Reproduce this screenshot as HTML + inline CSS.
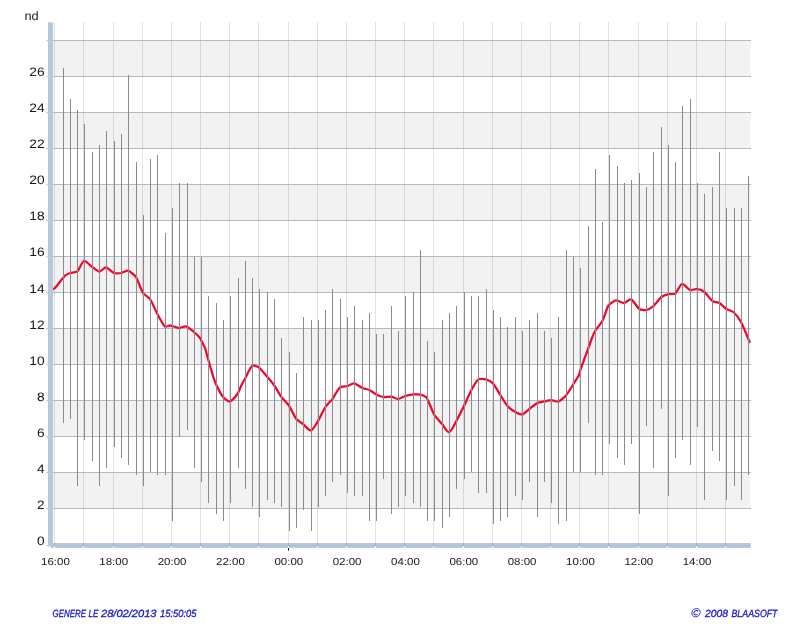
<!DOCTYPE html>
<html><head><meta charset="utf-8"><title>chart</title>
<style>
html,body{margin:0;padding:0;background:#fff;}
body{width:800px;height:630px;overflow:hidden;font-family:"Liberation Sans",sans-serif;}
svg{display:block;}
text{font-family:"Liberation Sans",sans-serif;text-rendering:geometricPrecision;}
</style></head><body>
<svg width="800" height="630" viewBox="0 0 800 630">
<defs><filter id="nf" x="0" y="0" width="800" height="630" filterUnits="userSpaceOnUse" color-interpolation-filters="sRGB"><feOffset dx="0" dy="0"/></filter></defs>
<rect x="0" y="0" width="800" height="630" fill="#ffffff"/>
<rect x="53" y="40" width="697.5" height="36" fill="#f2f2f2"/>
<rect x="53" y="112" width="697.5" height="36" fill="#f2f2f2"/>
<rect x="53" y="184" width="697.5" height="36" fill="#f2f2f2"/>
<rect x="53" y="256" width="697.5" height="36" fill="#f2f2f2"/>
<rect x="53" y="328" width="697.5" height="36" fill="#f2f2f2"/>
<rect x="53" y="400" width="697.5" height="36" fill="#f2f2f2"/>
<rect x="53" y="472" width="697.5" height="36" fill="#f2f2f2"/>
<g stroke="#000" stroke-opacity="0.115" stroke-width="1" shape-rendering="crispEdges">
<line x1="54.5" y1="22" x2="54.5" y2="543"/>
<line x1="83.5" y1="22" x2="83.5" y2="543"/>
<line x1="113.5" y1="22" x2="113.5" y2="543"/>
<line x1="142.5" y1="22" x2="142.5" y2="543"/>
<line x1="171.5" y1="22" x2="171.5" y2="543"/>
<line x1="200.5" y1="22" x2="200.5" y2="543"/>
<line x1="229.5" y1="22" x2="229.5" y2="543"/>
<line x1="258.5" y1="22" x2="258.5" y2="543"/>
<line x1="288.5" y1="22" x2="288.5" y2="543"/>
<line x1="317.5" y1="22" x2="317.5" y2="543"/>
<line x1="346.5" y1="22" x2="346.5" y2="543"/>
<line x1="375.5" y1="22" x2="375.5" y2="543"/>
<line x1="404.5" y1="22" x2="404.5" y2="543"/>
<line x1="433.5" y1="22" x2="433.5" y2="543"/>
<line x1="463.5" y1="22" x2="463.5" y2="543"/>
<line x1="492.5" y1="22" x2="492.5" y2="543"/>
<line x1="521.5" y1="22" x2="521.5" y2="543"/>
<line x1="550.5" y1="22" x2="550.5" y2="543"/>
<line x1="579.5" y1="22" x2="579.5" y2="543"/>
<line x1="608.5" y1="22" x2="608.5" y2="543"/>
<line x1="638.5" y1="22" x2="638.5" y2="543"/>
<line x1="667.5" y1="22" x2="667.5" y2="543"/>
<line x1="696.5" y1="22" x2="696.5" y2="543"/>
<line x1="725.5" y1="22" x2="725.5" y2="543"/>
</g>
<g stroke="#adb9cd" stroke-width="1" shape-rendering="crispEdges">
<line x1="53" y1="40.5" x2="750.5" y2="40.5"/>
<line x1="53" y1="76.5" x2="750.5" y2="76.5"/>
<line x1="53" y1="112.5" x2="750.5" y2="112.5"/>
<line x1="53" y1="148.5" x2="750.5" y2="148.5"/>
<line x1="53" y1="184.5" x2="750.5" y2="184.5"/>
<line x1="53" y1="220.5" x2="750.5" y2="220.5"/>
<line x1="53" y1="256.5" x2="750.5" y2="256.5"/>
<line x1="53" y1="292.5" x2="750.5" y2="292.5"/>
<line x1="53" y1="328.5" x2="750.5" y2="328.5"/>
<line x1="53" y1="364.5" x2="750.5" y2="364.5"/>
<line x1="53" y1="400.5" x2="750.5" y2="400.5"/>
<line x1="53" y1="436.5" x2="750.5" y2="436.5"/>
<line x1="53" y1="472.5" x2="750.5" y2="472.5"/>
<line x1="53" y1="508.5" x2="750.5" y2="508.5"/>
</g>
<g stroke="#c0cee1" stroke-width="1.3">
<line x1="46.3" y1="40.6" x2="48.2" y2="40.6"/>
<line x1="46.3" y1="76.6" x2="48.2" y2="76.6"/>
<line x1="46.3" y1="112.6" x2="48.2" y2="112.6"/>
<line x1="46.3" y1="148.6" x2="48.2" y2="148.6"/>
<line x1="46.3" y1="184.6" x2="48.2" y2="184.6"/>
<line x1="46.3" y1="220.6" x2="48.2" y2="220.6"/>
<line x1="46.3" y1="256.6" x2="48.2" y2="256.6"/>
<line x1="46.3" y1="292.6" x2="48.2" y2="292.6"/>
<line x1="46.3" y1="328.6" x2="48.2" y2="328.6"/>
<line x1="46.3" y1="364.6" x2="48.2" y2="364.6"/>
<line x1="46.3" y1="400.6" x2="48.2" y2="400.6"/>
<line x1="46.3" y1="436.6" x2="48.2" y2="436.6"/>
<line x1="46.3" y1="472.6" x2="48.2" y2="472.6"/>
<line x1="46.3" y1="508.6" x2="48.2" y2="508.6"/>
<line x1="46.3" y1="545.6" x2="48.2" y2="545.6"/>
</g>
<path d="M53.0 289.0C53.4 288.8 54.7 288.3 55.0 288.0C56.8 286.0 61.6 279.4 63.4 277.4C64.0 276.7 66.2 274.9 67.0 274.4C67.6 274.0 69.7 273.2 70.4 273.0C71.8 272.6 76.3 272.4 77.4 271.4C79.2 269.8 81.7 261.9 84.0 261.0C85.6 260.4 89.6 265.0 91.0 266.0C92.7 267.1 97.4 271.4 99.4 271.6C101.0 271.7 104.4 267.3 106.0 267.4C107.9 267.6 112.2 272.3 114.0 273.0C115.3 273.5 119.6 273.2 121.0 273.0C122.5 272.7 126.6 270.2 128.0 270.6C130.0 271.1 134.9 275.3 136.0 277.0C137.9 279.9 141.1 290.1 143.0 293.0C144.0 294.6 149.0 297.5 150.0 299.0C151.9 301.8 155.8 311.1 157.4 314.0C158.8 316.6 162.8 324.6 165.0 326.6C165.8 327.3 169.0 325.5 170.0 325.4C170.5 325.4 171.9 325.9 172.4 326.0C173.7 326.4 177.6 328.0 179.0 328.0C180.4 328.0 184.6 326.0 186.0 326.4C187.9 326.9 192.5 330.8 194.0 332.0C195.3 333.1 198.9 336.7 200.0 338.0C200.6 338.7 201.6 341.2 202.0 342.0C202.6 343.2 204.6 346.7 205.0 348.0C205.8 350.4 207.7 357.6 208.4 360.0C209.3 363.2 212.0 372.8 213.0 376.0C213.6 377.8 215.6 383.3 216.4 385.0C217.6 387.6 221.6 395.2 223.4 397.4C224.4 398.6 228.5 401.8 230.0 401.4C232.0 400.9 236.2 395.7 237.4 394.0C238.6 392.2 241.0 386.0 242.0 384.0C242.6 382.8 244.7 379.2 245.4 378.0C246.8 375.5 250.1 367.3 252.4 365.6C253.5 364.8 257.9 366.8 259.0 367.6C261.0 369.1 265.8 375.1 267.4 377.0C268.8 378.6 272.8 383.3 274.0 385.0C275.6 387.3 279.7 394.7 281.4 397.0C282.8 398.9 287.7 403.7 289.0 405.6C290.7 408.1 294.5 416.6 296.4 419.0C297.5 420.4 302.0 423.3 303.4 424.4C304.9 425.6 309.1 430.8 311.0 430.4C313.3 429.9 316.8 423.0 318.0 421.0C319.7 418.3 323.7 409.6 325.4 407.0C326.6 405.2 331.1 400.7 332.4 399.0C334.1 396.8 337.9 389.2 340.0 387.4C341.1 386.4 346.0 386.4 347.4 386.0C348.8 385.6 352.6 383.2 354.0 383.4C355.9 383.7 360.6 387.2 362.4 388.0C363.7 388.6 368.1 389.4 369.4 390.0C370.9 390.7 374.9 393.7 376.4 394.4C377.7 395.1 381.9 396.8 383.4 397.0C385.0 397.2 389.8 396.4 391.4 396.6C392.9 396.8 396.9 399.1 398.4 399.0C399.9 398.9 403.9 396.4 405.4 396.0C407.0 395.5 411.8 394.6 413.4 394.4C414.8 394.3 419.0 394.3 420.4 394.6C421.6 394.8 425.0 396.3 426.0 397.0C426.6 397.5 427.7 399.7 428.0 400.4C429.3 403.3 432.8 412.3 434.4 415.0C435.7 417.1 440.8 422.5 442.4 424.4C443.7 425.9 447.0 432.5 449.0 432.0C451.6 431.4 455.1 423.3 456.4 421.0C458.1 418.1 462.5 409.0 464.0 406.0C465.5 402.8 469.7 393.1 471.4 390.0C472.6 387.8 476.3 380.9 478.4 379.4C479.6 378.5 484.5 379.0 486.0 379.4C487.6 379.9 491.9 382.4 493.0 383.6C494.8 385.6 498.9 392.7 500.4 395.0C501.8 397.2 505.7 404.0 507.4 406.0C508.7 407.5 513.7 411.0 515.4 412.0C516.7 412.7 521.0 414.7 522.4 414.4C524.1 414.0 528.0 410.1 529.4 409.0C531.0 407.8 535.6 403.9 537.4 403.0C538.7 402.4 543.0 401.7 544.4 401.4C545.8 401.1 550.0 400.0 551.4 400.0C552.8 400.0 557.0 402.1 558.4 401.6C560.4 400.9 565.1 396.6 566.4 395.0C568.1 393.0 572.0 386.2 573.4 384.0C574.5 382.2 578.1 376.9 579.0 375.0C579.5 374.1 580.1 371.0 580.4 370.0C581.9 365.6 586.8 352.4 588.4 348.0C589.1 346.0 591.2 340.0 592.0 338.0C592.6 336.5 594.5 331.9 595.4 330.5C596.6 328.5 601.3 323.1 602.4 321.0C603.9 318.2 606.8 309.0 608.0 306.0C608.2 305.6 609.1 304.6 609.4 304.4C610.7 303.5 614.5 300.5 616.0 300.4C617.7 300.2 622.3 303.1 624.0 303.0C625.6 302.9 629.5 298.8 631.0 299.4C633.4 300.3 637.3 307.6 639.4 309.0C640.6 309.8 645.0 310.3 646.4 310.0C648.0 309.7 652.2 307.1 653.4 306.0C655.2 304.4 659.5 298.5 661.4 297.0C662.6 296.1 666.9 294.6 668.4 294.2C669.8 293.9 674.3 294.4 675.4 293.6C677.3 292.2 679.7 284.6 682.0 284.0C683.9 283.5 688.1 289.4 690.0 290.0C691.4 290.5 695.9 288.8 697.4 289.0C698.9 289.2 703.2 291.0 704.4 292.0C706.3 293.5 710.5 299.6 712.4 301.0C713.6 301.9 718.1 302.3 719.4 303.0C721.0 303.9 724.8 308.0 726.4 309.0C727.7 309.8 732.3 311.0 733.4 312.0C735.3 313.7 739.8 319.8 741.0 322.0C743.1 325.8 747.9 338.0 749.6 342.0" fill="none" stroke="#f3052e" stroke-width="2.25" stroke-linejoin="round" stroke-linecap="round"/>
<g stroke="#8a8a8a" stroke-width="1" shape-rendering="crispEdges">
<line x1="63.5" y1="68" x2="63.5" y2="423"/>
<line x1="70.5" y1="99" x2="70.5" y2="419"/>
<line x1="77.5" y1="110" x2="77.5" y2="486"/>
<line x1="84.5" y1="124" x2="84.5" y2="440"/>
<line x1="92.5" y1="152" x2="92.5" y2="461"/>
<line x1="99.5" y1="145" x2="99.5" y2="486"/>
<line x1="106.5" y1="131" x2="106.5" y2="468"/>
<line x1="114.5" y1="141" x2="114.5" y2="447"/>
<line x1="121.5" y1="134" x2="121.5" y2="458"/>
<line x1="128.5" y1="75" x2="128.5" y2="465"/>
<line x1="136.5" y1="162" x2="136.5" y2="475"/>
<line x1="143.5" y1="215" x2="143.5" y2="486"/>
<line x1="150.5" y1="159" x2="150.5" y2="472"/>
<line x1="157.5" y1="155" x2="157.5" y2="475"/>
<line x1="165.5" y1="233" x2="165.5" y2="475"/>
<line x1="172.5" y1="208" x2="172.5" y2="521"/>
<line x1="179.5" y1="183" x2="179.5" y2="437"/>
<line x1="187.5" y1="183" x2="187.5" y2="430"/>
<line x1="194.5" y1="257" x2="194.5" y2="468"/>
<line x1="201.5" y1="257" x2="201.5" y2="482"/>
<line x1="208.5" y1="296" x2="208.5" y2="503"/>
<line x1="216.5" y1="303" x2="216.5" y2="514"/>
<line x1="223.5" y1="320" x2="223.5" y2="521"/>
<line x1="230.5" y1="296" x2="230.5" y2="503"/>
<line x1="238.5" y1="278" x2="238.5" y2="468"/>
<line x1="245.5" y1="261" x2="245.5" y2="489"/>
<line x1="252.5" y1="278" x2="252.5" y2="507"/>
<line x1="259.5" y1="289" x2="259.5" y2="517"/>
<line x1="267.5" y1="292" x2="267.5" y2="500"/>
<line x1="274.5" y1="299" x2="274.5" y2="503"/>
<line x1="281.5" y1="338" x2="281.5" y2="507"/>
<line x1="289.5" y1="352" x2="289.5" y2="531"/>
<line x1="296.5" y1="373" x2="296.5" y2="528"/>
<line x1="303.5" y1="317" x2="303.5" y2="510"/>
<line x1="311.5" y1="320" x2="311.5" y2="531"/>
<line x1="318.5" y1="320" x2="318.5" y2="507"/>
<line x1="325.5" y1="310" x2="325.5" y2="496"/>
<line x1="332.5" y1="289" x2="332.5" y2="482"/>
<line x1="340.5" y1="299" x2="340.5" y2="475"/>
<line x1="347.5" y1="317" x2="347.5" y2="493"/>
<line x1="354.5" y1="306" x2="354.5" y2="496"/>
<line x1="362.5" y1="320" x2="362.5" y2="496"/>
<line x1="369.5" y1="313" x2="369.5" y2="521"/>
<line x1="376.5" y1="334" x2="376.5" y2="521"/>
<line x1="383.5" y1="334" x2="383.5" y2="479"/>
<line x1="391.5" y1="306" x2="391.5" y2="514"/>
<line x1="398.5" y1="331" x2="398.5" y2="507"/>
<line x1="405.5" y1="296" x2="405.5" y2="496"/>
<line x1="413.5" y1="292" x2="413.5" y2="503"/>
<line x1="420.5" y1="250" x2="420.5" y2="507"/>
<line x1="427.5" y1="341" x2="427.5" y2="521"/>
<line x1="434.5" y1="352" x2="434.5" y2="521"/>
<line x1="442.5" y1="320" x2="442.5" y2="528"/>
<line x1="449.5" y1="313" x2="449.5" y2="517"/>
<line x1="456.5" y1="306" x2="456.5" y2="489"/>
<line x1="464.5" y1="292" x2="464.5" y2="479"/>
<line x1="471.5" y1="296" x2="471.5" y2="472"/>
<line x1="478.5" y1="296" x2="478.5" y2="493"/>
<line x1="486.5" y1="289" x2="486.5" y2="493"/>
<line x1="493.5" y1="310" x2="493.5" y2="524"/>
<line x1="500.5" y1="317" x2="500.5" y2="521"/>
<line x1="507.5" y1="327" x2="507.5" y2="517"/>
<line x1="515.5" y1="317" x2="515.5" y2="496"/>
<line x1="522.5" y1="331" x2="522.5" y2="500"/>
<line x1="529.5" y1="320" x2="529.5" y2="482"/>
<line x1="537.5" y1="313" x2="537.5" y2="517"/>
<line x1="544.5" y1="331" x2="544.5" y2="482"/>
<line x1="551.5" y1="338" x2="551.5" y2="503"/>
<line x1="558.5" y1="317" x2="558.5" y2="524"/>
<line x1="566.5" y1="250" x2="566.5" y2="521"/>
<line x1="573.5" y1="257" x2="573.5" y2="472"/>
<line x1="580.5" y1="268" x2="580.5" y2="472"/>
<line x1="588.5" y1="226" x2="588.5" y2="423"/>
<line x1="595.5" y1="169" x2="595.5" y2="475"/>
<line x1="602.5" y1="222" x2="602.5" y2="475"/>
<line x1="609.5" y1="155" x2="609.5" y2="444"/>
<line x1="617.5" y1="166" x2="617.5" y2="458"/>
<line x1="624.5" y1="183" x2="624.5" y2="465"/>
<line x1="631.5" y1="180" x2="631.5" y2="444"/>
<line x1="639.5" y1="173" x2="639.5" y2="514"/>
<line x1="646.5" y1="187" x2="646.5" y2="426"/>
<line x1="653.5" y1="152" x2="653.5" y2="468"/>
<line x1="661.5" y1="127" x2="661.5" y2="409"/>
<line x1="668.5" y1="145" x2="668.5" y2="496"/>
<line x1="675.5" y1="162" x2="675.5" y2="458"/>
<line x1="682.5" y1="106" x2="682.5" y2="440"/>
<line x1="690.5" y1="99" x2="690.5" y2="465"/>
<line x1="697.5" y1="183" x2="697.5" y2="427"/>
<line x1="704.5" y1="194" x2="704.5" y2="500"/>
<line x1="712.5" y1="187" x2="712.5" y2="451"/>
<line x1="719.5" y1="152" x2="719.5" y2="461"/>
<line x1="726.5" y1="208" x2="726.5" y2="500"/>
<line x1="734.5" y1="208" x2="734.5" y2="486"/>
<line x1="741.5" y1="208" x2="741.5" y2="500"/>
<line x1="748.5" y1="176" x2="748.5" y2="475"/>
</g>
<rect x="48" y="22.3" width="5" height="523.9" fill="#b6c8dc"/>
<rect x="48" y="543" width="702.7" height="3.2" fill="#b6c8dc"/>
<rect x="50.6" y="546" width="700.1" height="2" fill="#b6c8dc"/>
<rect x="53" y="545" width="697.7" height="1" fill="#aebdd3"/>
<g stroke="#000" stroke-opacity="0.10" stroke-width="1" shape-rendering="crispEdges">
<line x1="54.5" y1="543" x2="54.5" y2="546"/>
<line x1="83.5" y1="543" x2="83.5" y2="546"/>
<line x1="113.5" y1="543" x2="113.5" y2="546"/>
<line x1="142.5" y1="543" x2="142.5" y2="546"/>
<line x1="171.5" y1="543" x2="171.5" y2="546"/>
<line x1="200.5" y1="543" x2="200.5" y2="546"/>
<line x1="229.5" y1="543" x2="229.5" y2="546"/>
<line x1="258.5" y1="543" x2="258.5" y2="546"/>
<line x1="288.5" y1="543" x2="288.5" y2="546"/>
<line x1="317.5" y1="543" x2="317.5" y2="546"/>
<line x1="346.5" y1="543" x2="346.5" y2="546"/>
<line x1="375.5" y1="543" x2="375.5" y2="546"/>
<line x1="404.5" y1="543" x2="404.5" y2="546"/>
<line x1="433.5" y1="543" x2="433.5" y2="546"/>
<line x1="463.5" y1="543" x2="463.5" y2="546"/>
<line x1="492.5" y1="543" x2="492.5" y2="546"/>
<line x1="521.5" y1="543" x2="521.5" y2="546"/>
<line x1="550.5" y1="543" x2="550.5" y2="546"/>
<line x1="579.5" y1="543" x2="579.5" y2="546"/>
<line x1="608.5" y1="543" x2="608.5" y2="546"/>
<line x1="638.5" y1="543" x2="638.5" y2="546"/>
<line x1="667.5" y1="543" x2="667.5" y2="546"/>
<line x1="696.5" y1="543" x2="696.5" y2="546"/>
<line x1="725.5" y1="543" x2="725.5" y2="546"/>
</g>
<g stroke="#ffffff" stroke-width="1" shape-rendering="crispEdges">
<line x1="54.5" y1="546" x2="54.5" y2="548"/>
<line x1="83.5" y1="546" x2="83.5" y2="548"/>
<line x1="113.5" y1="546" x2="113.5" y2="548"/>
<line x1="142.5" y1="546" x2="142.5" y2="548"/>
<line x1="171.5" y1="546" x2="171.5" y2="548"/>
<line x1="200.5" y1="546" x2="200.5" y2="548"/>
<line x1="229.5" y1="546" x2="229.5" y2="548"/>
<line x1="258.5" y1="546" x2="258.5" y2="548"/>
<line x1="288.5" y1="546" x2="288.5" y2="548"/>
<line x1="317.5" y1="546" x2="317.5" y2="548"/>
<line x1="346.5" y1="546" x2="346.5" y2="548"/>
<line x1="375.5" y1="546" x2="375.5" y2="548"/>
<line x1="404.5" y1="546" x2="404.5" y2="548"/>
<line x1="433.5" y1="546" x2="433.5" y2="548"/>
<line x1="463.5" y1="546" x2="463.5" y2="548"/>
<line x1="492.5" y1="546" x2="492.5" y2="548"/>
<line x1="521.5" y1="546" x2="521.5" y2="548"/>
<line x1="550.5" y1="546" x2="550.5" y2="548"/>
<line x1="579.5" y1="546" x2="579.5" y2="548"/>
<line x1="608.5" y1="546" x2="608.5" y2="548"/>
<line x1="638.5" y1="546" x2="638.5" y2="548"/>
<line x1="667.5" y1="546" x2="667.5" y2="548"/>
<line x1="696.5" y1="546" x2="696.5" y2="548"/>
<line x1="725.5" y1="546" x2="725.5" y2="548"/>
</g>
<rect x="288" y="548" width="1" height="2.7" fill="#1a1a1a"/>
<g fill="#181818" font-size="12.2px" filter="url(#nf)">
<text x="24.5" y="20" textLength="14.2" lengthAdjust="spacingAndGlyphs">nd</text>
<text x="29.3" y="75.8" textLength="15.3" lengthAdjust="spacingAndGlyphs">26</text>
<text x="29.3" y="111.8" textLength="15.3" lengthAdjust="spacingAndGlyphs">24</text>
<text x="29.3" y="147.8" textLength="15.3" lengthAdjust="spacingAndGlyphs">22</text>
<text x="29.3" y="183.8" textLength="15.3" lengthAdjust="spacingAndGlyphs">20</text>
<text x="29.3" y="219.8" textLength="15.3" lengthAdjust="spacingAndGlyphs">18</text>
<text x="29.3" y="255.8" textLength="15.3" lengthAdjust="spacingAndGlyphs">16</text>
<text x="29.3" y="292.8" textLength="15.3" lengthAdjust="spacingAndGlyphs">14</text>
<text x="29.3" y="328.8" textLength="15.3" lengthAdjust="spacingAndGlyphs">12</text>
<text x="29.3" y="364.8" textLength="15.3" lengthAdjust="spacingAndGlyphs">10</text>
<text x="37.0" y="400.8" textLength="7.6" lengthAdjust="spacingAndGlyphs">8</text>
<text x="37.0" y="436.8" textLength="7.6" lengthAdjust="spacingAndGlyphs">6</text>
<text x="37.0" y="472.8" textLength="7.6" lengthAdjust="spacingAndGlyphs">4</text>
<text x="37.0" y="508.8" textLength="7.6" lengthAdjust="spacingAndGlyphs">2</text>
<text x="37.0" y="544.8" textLength="7.6" lengthAdjust="spacingAndGlyphs">0</text>
</g>
<g fill="#181818" font-size="10.1px" filter="url(#nf)">
<text x="41.0" y="564.8" textLength="28.8" lengthAdjust="spacingAndGlyphs">16:00</text>
<text x="99.3" y="564.8" textLength="28.8" lengthAdjust="spacingAndGlyphs">18:00</text>
<text x="157.7" y="564.8" textLength="28.8" lengthAdjust="spacingAndGlyphs">20:00</text>
<text x="216.0" y="564.8" textLength="28.8" lengthAdjust="spacingAndGlyphs">22:00</text>
<text x="274.4" y="564.8" textLength="28.8" lengthAdjust="spacingAndGlyphs">00:00</text>
<text x="332.7" y="564.8" textLength="28.8" lengthAdjust="spacingAndGlyphs">02:00</text>
<text x="391.0" y="564.8" textLength="28.8" lengthAdjust="spacingAndGlyphs">04:00</text>
<text x="449.4" y="564.8" textLength="28.8" lengthAdjust="spacingAndGlyphs">06:00</text>
<text x="507.7" y="564.8" textLength="28.8" lengthAdjust="spacingAndGlyphs">08:00</text>
<text x="566.1" y="564.8" textLength="28.8" lengthAdjust="spacingAndGlyphs">10:00</text>
<text x="624.4" y="564.8" textLength="28.8" lengthAdjust="spacingAndGlyphs">12:00</text>
<text x="682.7" y="564.8" textLength="28.8" lengthAdjust="spacingAndGlyphs">14:00</text>
</g>
<g fill="#1616cc" stroke="#1616cc" stroke-width="0.3" font-size="10.4px" font-style="italic" filter="url(#nf)">
<text x="52.5" y="616.8" textLength="33.5" lengthAdjust="spacingAndGlyphs">GENERE</text>
<text x="88.5" y="616.8" textLength="10" lengthAdjust="spacingAndGlyphs">LE</text>
<text x="101" y="616.8" textLength="55.5" lengthAdjust="spacingAndGlyphs">28/02/2013</text>
<text x="160" y="616.8" textLength="36.5" lengthAdjust="spacingAndGlyphs">15:50:05</text>
<text x="705" y="616.8" textLength="23" lengthAdjust="spacingAndGlyphs">2008</text>
<text x="731.5" y="616.8" textLength="46" lengthAdjust="spacingAndGlyphs">BLAASOFT</text>
</g>
<g fill="none" stroke="#2a2ad2" stroke-width="0.9" transform="translate(696 612.7) skewX(-10)"><circle cx="0" cy="0" r="4.1"/><path d="M1.9 -1.3 A2.2 2.2 0 1 0 1.9 1.3" stroke-width="1"/></g>
</svg>
</body></html>
